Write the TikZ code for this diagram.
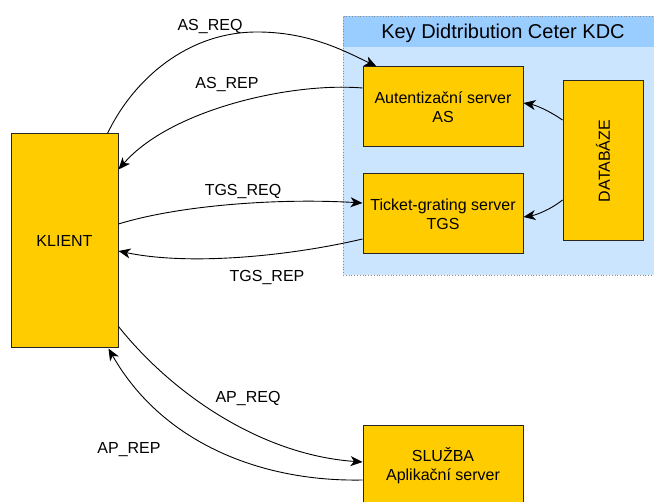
\documentclass[tikz,border=0pt]{standalone}
\usepackage{fontspec}
\setmainfont{Liberation Sans}
\usetikzlibrary{arrows.meta}

\definecolor{boxyellow}{HTML}{FFCC00}
\definecolor{kdchead}{HTML}{99CCFF}
\definecolor{kdcbody}{HTML}{CCE5FF}

\begin{document}
\begin{tikzpicture}[x=1pt, y=-1pt,
		server/.style={draw=black!85, fill=boxyellow, line width=1pt, inner sep=0pt,
			minimum width=160pt, minimum height=80pt, align=center,
			font=\fontsize{16}{19}\selectfont},
		msg/.style={font=\fontsize{16}{19}\selectfont},
		arr/.style={line width=0.9pt, -{Stealth[length=12pt,width=10pt,inset=3.5pt]}}]
		
		\useasboundingbox (0,0) rectangle (654,502);
		
		% KDC
		\fill[kdcbody] (343,16) rectangle (658,275);
		\fill[kdchead] (343,16) rectangle (658,47);
		\draw[black!45, dotted, line width=0.8pt] (658,16) -- (343,16) -- (343,275) -- (658,275);
		\node[font=\fontsize{20}{24}\selectfont] (kdc) at (503,33) {Key Didtribution Ceter KDC};
		
		\node[server] (as) at (443,107) {Autentizační server\\AS};
		\node[server] (tgs) at (443,214) {Ticket-grating server\\TGS};
		\node[server, minimum width=80pt, minimum height=160pt] (db) at (603,161) {};
		\node[msg, rotate=90] (dbtext) at (db.center) {DATABÁZE};
		
		% Klient and service
		\node[server, minimum width=107pt, minimum height=214pt] (klient) at (64.5,241) {KLIENT};
		\node[server] (sluzba) at (443,466) {SLUŽBA\\Aplikační server};
		
		% AS exchange
		\draw[arr] ([xshift=-11pt]klient.north east) .. controls (133,80) and (187,32) .. (257,32)
			.. controls (307,32) and (341,49) .. ([xshift=14pt]as.north west);
		\node[msg] (asreq) at (210,27) {AS\_REQ};
		\draw[arr] ([yshift=19pt]as.west) .. controls (290,82) and (170,110) .. ([yshift=-36pt]klient.north east);
		\node[msg] (asrep) at (227,85) {AS\_REP};
		
		% TGS exchange
		\draw[arr] ([yshift=17pt]klient.east) .. controls (180,205) and (280,198) .. ([yshift=11pt]tgs.west);
		\node[msg] (tgsreq) at (243,192) {TGS\_REQ};
		\draw[arr] ([yshift=-25pt]tgs.west) .. controls (290,256) and (190,266) .. ([yshift=-10pt]klient.east);
		\node[msg] (tgsrep) at (267,278) {TGS\_REP};
		
		% AP exchange
		\draw[arr] ([yshift=22pt]klient.south east) .. controls (174,396) and (263,455) .. ([yshift=4pt]sluzba.west);
		\node[msg] (apreq) at (248,399) {AP\_REQ};
		\draw[arr] ([yshift=-14pt]sluzba.west) .. controls (263,482) and (163,444) .. ([xshift=-10pt]klient.south east);
		\node[msg] (aprep) at (129,450) {AP\_REP};
		
		% Database
		\draw[arr] ([yshift=41pt]db.west) .. controls (548,110) and (535,105) .. ([yshift=4pt]as.east);
		\draw[arr] ([yshift=-39pt]db.west) .. controls (550,210) and (536,215) .. ([yshift=-3pt]tgs.east);
		
	\end{tikzpicture}
\end{document}
